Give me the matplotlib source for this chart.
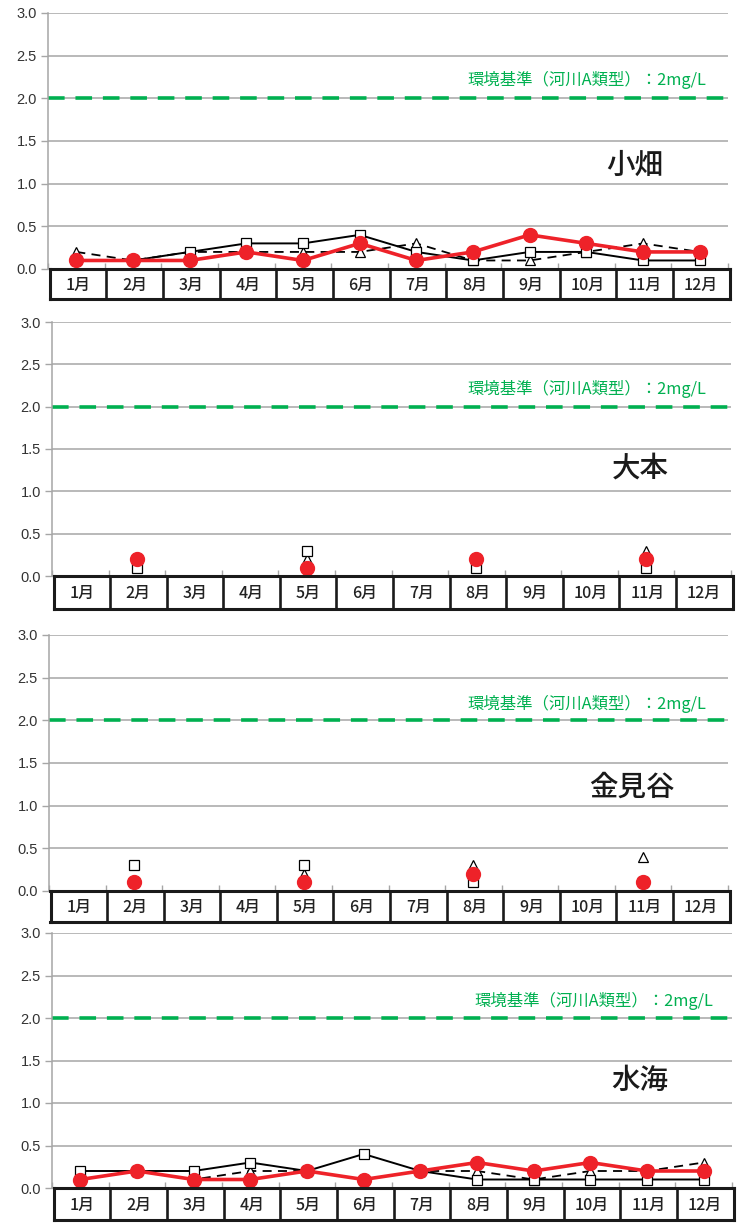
import numpy as np
import matplotlib
matplotlib.use("Agg")
import matplotlib.pyplot as plt

plt.rcParams['font.family'] = ['Noto Sans CJK JP', 'DejaVu Sans']

nan = np.nan
months = ["1月", "2月", "3月", "4月", "5月", "6月", "7月", "8月", "9月", "10月", "11月", "12月"]
stations = ["小畑", "大本", "金見谷", "水海"]
standard_value = 2.0
standard_label = "環境基準（河川A類型）：2mg/L"

# BOD (mg/L) by station: square series, triangle series, circle series
obata_sq = [0.1, 0.1, 0.2, 0.3, 0.3, 0.4, 0.2, 0.1, 0.2, 0.2, 0.1, 0.1]
obata_tri = [0.2, 0.1, 0.2, 0.2, 0.2, 0.2, 0.3, 0.1, 0.1, 0.2, 0.3, 0.2]
obata_dot = [0.1, 0.1, 0.1, 0.2, 0.1, 0.3, 0.1, 0.2, 0.4, 0.3, 0.2, 0.2]

omoto_sq = [nan, 0.1, nan, nan, 0.3, nan, nan, 0.1, nan, nan, 0.1, nan]
omoto_tri = [nan, 0.2, nan, nan, 0.2, nan, nan, 0.2, nan, nan, 0.3, nan]
omoto_dot = [nan, 0.2, nan, nan, 0.1, nan, nan, 0.2, nan, nan, 0.2, nan]

kanamidani_sq = [nan, 0.3, nan, nan, 0.3, nan, nan, 0.1, nan, nan, 0.1, nan]
kanamidani_tri = [nan, 0.1, nan, nan, 0.2, nan, nan, 0.3, nan, nan, 0.4, nan]
kanamidani_dot = [nan, 0.1, nan, nan, 0.1, nan, nan, 0.2, nan, nan, 0.1, nan]

mizumi_sq = [0.2, 0.2, 0.2, 0.3, 0.2, 0.4, 0.2, 0.1, 0.1, 0.1, 0.1, 0.1]
mizumi_tri = [0.1, 0.2, 0.1, 0.2, 0.2, 0.1, 0.2, 0.2, 0.1, 0.2, 0.2, 0.3]
mizumi_dot = [0.1, 0.2, 0.1, 0.1, 0.2, 0.1, 0.2, 0.3, 0.2, 0.3, 0.2, 0.2]

series = [
    (obata_sq, obata_tri, obata_dot),
    (omoto_sq, omoto_tri, omoto_dot),
    (kanamidani_sq, kanamidani_tri, kanamidani_dot),
    (mizumi_sq, mizumi_tri, mizumi_dot),
]

W, H = 740, 1225
fig = plt.figure(figsize=(W / 100, H / 100), dpi=100)

# panel geometry in pixels: left, right, top of plot, zero line, bottom of month table
geom = [
    (48, 728, 13, 269, 299),
    (52, 731, 322, 576, 609),
    (49, 728, 635, 891, 922),
    (52, 732, 933, 1188, 1220),
]
# station name position (pixels) and standard label right edge / y
name_pos = [(635, 165), (640, 468), (632, 787), (640, 1080)]
std_text_pos = [(706, 80), (706, 389), (706, 704), (713, 1001)]

GRID = "#a6a6a6"
GREEN = "#00b050"
RED = "#ee2229"
x = np.arange(len(months))

for k, (L, R, T, Z, B) in enumerate(geom):
    ax = fig.add_axes([L / W, 1 - Z / H, (R - L) / W, (Z - T) / H])
    ax.set_xlim(-0.5, 11.5)
    ax.set_ylim(0, 3.0)
    ax.set_yticks(np.arange(0, 3.01, 0.5))
    ax.set_yticklabels([f"{v:.1f}" for v in np.arange(0, 3.01, 0.5)],
                       family=["Liberation Sans", "DejaVu Sans"], fontsize=10.5, color="#333333")
    ax.tick_params(axis="y", length=5, width=1.0, color=GRID, pad=3)
    ax.set_xticks([])
    ax.set_xticks(np.arange(-0.5, 12, 1.0), minor=True)
    ax.tick_params(axis="x", which="minor", direction="in", length=4, width=1.0, color=GRID,
                   labelbottom=False)
    ax.grid(axis="y", color=GRID, lw=1.1)
    ax.set_axisbelow(True)
    for s in ["top", "right", "bottom"]:
        ax.spines[s].set_visible(False)
    ax.spines["left"].set_color(GRID)
    ax.spines["left"].set_linewidth(1.1)

    # water quality standard
    ax.axhline(standard_value, color=GREEN, lw=2.6, dashes=(4.6, 3.0), zorder=2)

    sq, tri, dot = series[k]
    ax.plot(x, tri, color="black", lw=1.3, dashes=(5, 3.5), marker="^", ms=7.5,
            mfc="white", mec="black", mew=0.9, zorder=3, clip_on=False)
    ax.plot(x, sq, color="black", lw=1.4, marker="s", ms=7, mfc="white", mec="black",
            mew=0.9, zorder=4, clip_on=False)
    ax.plot(x, dot, color=RED, lw=2.6, marker="o", ms=10, mfc=RED, mec=RED,
            zorder=5, clip_on=False)

    tx, ty = std_text_pos[k]
    fig.text(tx / W, 1 - ty / H, standard_label, color=GREEN, fontsize=11.8,
             ha="right", va="center")
    nx, ny = name_pos[k]
    fig.text(nx / W, 1 - ny / H, stations[k], fontsize=20.5, fontweight="medium",
             color="#1a1a1a", ha="center", va="center")

    # month table under the plot
    tab = fig.add_axes([L / W + 1.5 / W, 1 - B / H, (R - L) / W, (B - Z) / H])
    tab.set_xlim(-0.5, 11.5)
    tab.set_ylim(0, 1)
    tab.set_xticks([])
    tab.set_yticks([])
    for s in tab.spines.values():
        s.set_color("#1a1a1a")
        s.set_linewidth(2.2)
    for b in np.arange(0.5, 11, 1.0):
        tab.axvline(b, color="#1a1a1a", lw=1.9)
    for i, m in enumerate(months):
        tab.text(i, 0.46, m, ha="center", va="center", fontsize=11.5, color="#222222",
                 fontweight="medium")

fig.savefig("out.png", dpi=100)
